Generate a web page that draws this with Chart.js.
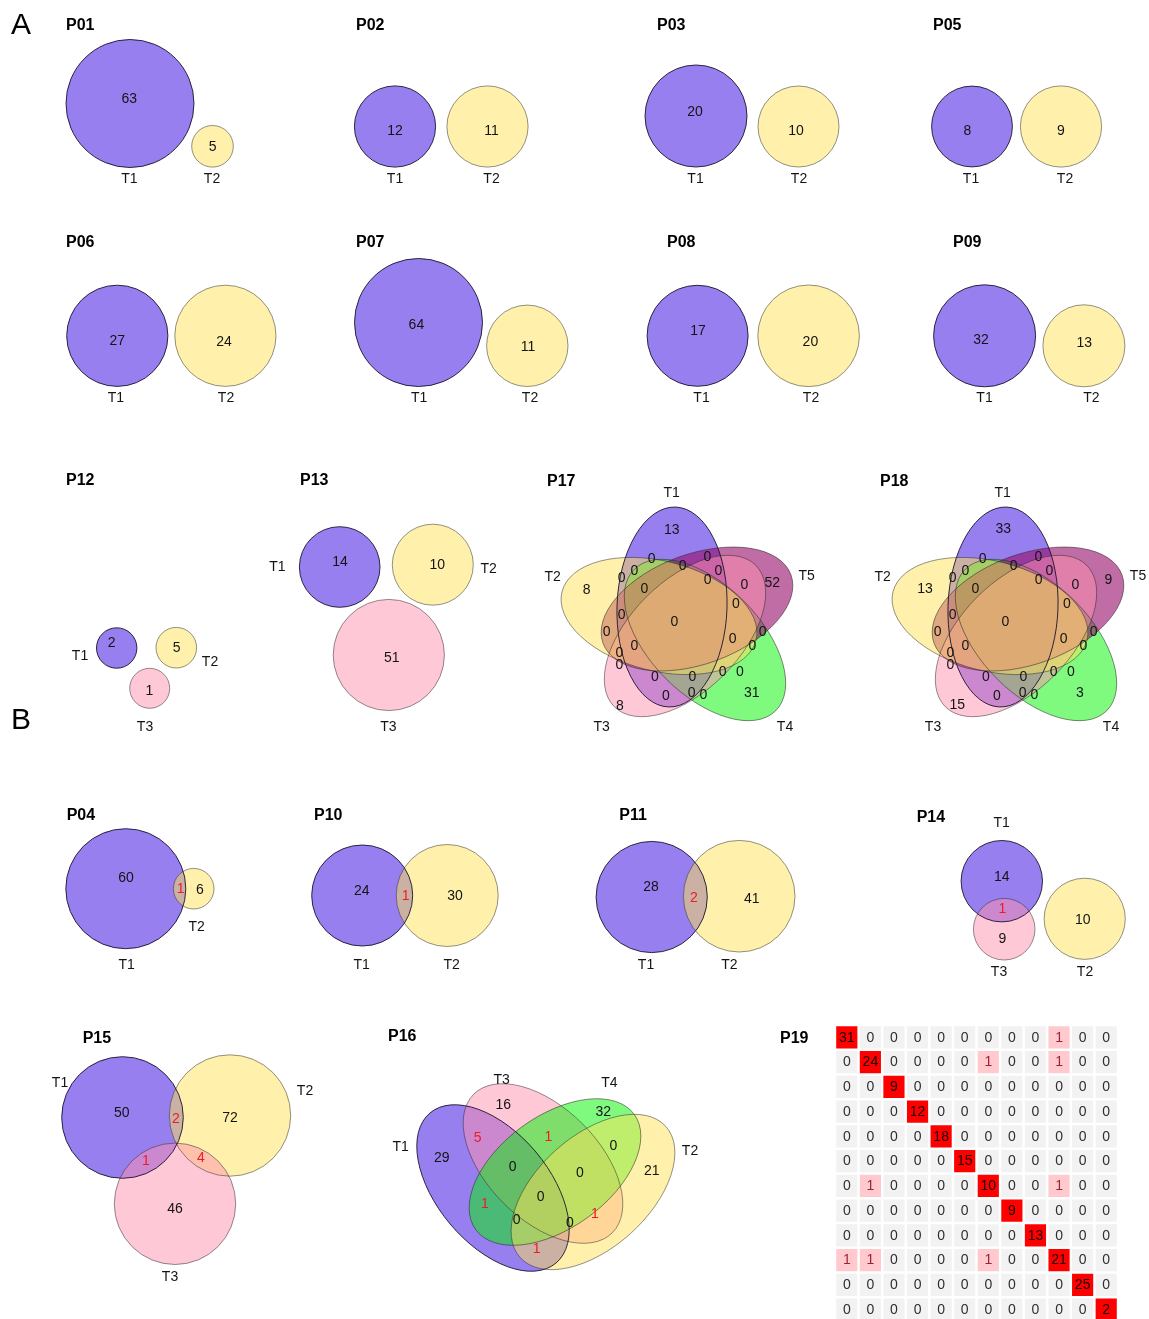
<!DOCTYPE html>
<html>
<head>
<meta charset="utf-8">
<script src="https://cdn.jsdelivr.net/npm/chart.js@4.4.0/dist/chart.umd.min.js"></script>
<style>
  html, body { margin: 0; padding: 0; background: #ffffff; }
  #wrap { position: relative; width: 1149px; height: 1319px; overflow: hidden; }
  #venn { position: absolute; left: 0; top: 0; }
  #heat { position: absolute; left: 835px; top: 1025px; }
</style>
</head>
<body>
<div id="wrap">
  <canvas id="venn" width="1149" height="1319"></canvas>
  <canvas id="heat" width="283" height="297"></canvas>
</div>
<script>
// ---------- counts per region ----------
// two disjoint sets: [T1 only, T2 only]
const P01 = [63, 5];
const P02 = [12, 11];
const P03 = [20, 10];
const P05 = [8, 9];
const P06 = [27, 24];
const P07 = [64, 11];
const P08 = [17, 20];
const P09 = [32, 13];
// three disjoint sets: [T1, T2, T3]
const P12 = [2, 5, 1];
const P13 = [14, 10, 51];
// two overlapping sets: [T1 only, T1&T2, T2 only]
const P04 = [60, 1, 6];
const P10 = [24, 1, 30];
const P11 = [28, 2, 41];
// [T1 only, T1&T3, T3 only, T2 only]
const P14 = [14, 1, 9, 10];
// [T1, T1&T2, T2, T1&T3, T2&T3, T3]
const P15 = [50, 2, 72, 1, 4, 46];
// four-set regions
const P16 = [16, 32, 5, 1, 0, 29, 21, 0, 0, 0, 1, 0, 0, 1, 1];
// five-set regions
const P17 = [13, 0, 0, 0, 0, 0, 0, 8, 0, 0, 0, 52, 0, 0, 0, 0, 0, 0, 0, 0, 0, 0, 0, 0, 0, 0, 31, 0, 0, 0, 8];
const P18 = [33, 0, 0, 0, 0, 0, 0, 13, 0, 0, 0, 9, 0, 0, 0, 0, 0, 0, 0, 0, 0, 0, 0, 0, 0, 0, 3, 0, 0, 0, 15];
// shared-clone matrix
const P19 = [
  [31, 0, 0, 0, 0, 0, 0, 0, 0, 1, 0, 0],
  [0, 24, 0, 0, 0, 0, 1, 0, 0, 1, 0, 0],
  [0, 0, 9, 0, 0, 0, 0, 0, 0, 0, 0, 0],
  [0, 0, 0, 12, 0, 0, 0, 0, 0, 0, 0, 0],
  [0, 0, 0, 0, 18, 0, 0, 0, 0, 0, 0, 0],
  [0, 0, 0, 0, 0, 15, 0, 0, 0, 0, 0, 0],
  [0, 1, 0, 0, 0, 0, 10, 0, 0, 1, 0, 0],
  [0, 0, 0, 0, 0, 0, 0, 9, 0, 0, 0, 0],
  [0, 0, 0, 0, 0, 0, 0, 0, 13, 0, 0, 0],
  [1, 1, 0, 0, 0, 0, 1, 0, 0, 21, 0, 0],
  [0, 0, 0, 0, 0, 0, 0, 0, 0, 0, 25, 0],
  [0, 0, 0, 0, 0, 0, 0, 0, 0, 0, 0, 2]
];
const P19_cols = ['c1','c2','c3','c4','c5','c6','c7','c8','c9','c10','c11','c12'];

// ---------- styling ----------
const FONT = "'Liberation Sans', Arial, Helvetica, sans-serif";
const FILL = {
  T1: 'rgba(50,0,225,0.5)',
  T2: 'rgba(255,228,90,0.5)',
  T3: 'rgba(255,145,175,0.5)',
  T4: 'rgba(0,245,0,0.5)',
  T5: 'rgba(150,10,105,0.6)'
};
const EDGE = {
  T1: 'rgba(25,20,45,0.9)',
  T2: 'rgba(40,40,40,0.5)',
  T3: 'rgba(40,40,40,0.5)',
  T4: 'rgba(40,40,40,0.55)',
  T5: 'rgba(40,40,40,0.55)'
};
const INK = '#141414';
const RED = '#ee1c24';

// ---------- layout (page coordinates) ----------
// circles: [set, cx, cy, r] in drawing order; countAt: [x, y, isOverlap]; labels: [text, x, y]
const circlePanels = [
  { title: 'P01', at: [66, 25.7], counts: P01,
    circles: [['T1', 130, 103.5, 64], ['T2', 212.5, 146.3, 20.8]],
    countAt: [[129.3, 99, 0], [212.7, 146.7, 0]],
    labels: [['T1', 129.3, 179.3], ['T2', 212, 179.3]] },
  { title: 'P02', at: [356, 25.7], counts: P02,
    circles: [['T1', 395, 126.5, 40.6], ['T2', 487.5, 126.5, 40.6]],
    countAt: [[395, 130.7, 0], [491.5, 130.7, 0]],
    labels: [['T1', 395, 179.3], ['T2', 491.5, 179.3]] },
  { title: 'P03', at: [657, 25.7], counts: P03,
    circles: [['T1', 696, 116, 51], ['T2', 798.5, 126.5, 40.5]],
    countAt: [[695, 111.7, 0], [796, 130.7, 0]],
    labels: [['T1', 695.5, 179.3], ['T2', 799, 179.3]] },
  { title: 'P05', at: [933, 25.7], counts: P05,
    circles: [['T1', 972, 126.5, 40.4], ['T2', 1061, 126.5, 40.6]],
    countAt: [[967.5, 130.7, 0], [1061, 130.7, 0]],
    labels: [['T1', 971, 179.3], ['T2', 1065, 179.3]] },
  { title: 'P06', at: [66, 243], counts: P06,
    circles: [['T1', 117.3, 335.8, 50.6], ['T2', 225.4, 335.8, 50.6]],
    countAt: [[117.2, 340.7, 0], [224, 341.7, 0]],
    labels: [['T1', 115.8, 398.3], ['T2', 226, 398.3]] },
  { title: 'P07', at: [356, 243], counts: P07,
    circles: [['T1', 418.5, 322.5, 64], ['T2', 527.3, 345.8, 40.7]],
    countAt: [[416.4, 325, 0], [528, 346.7, 0]],
    labels: [['T1', 419.2, 398.3], ['T2', 530, 398.3]] },
  { title: 'P08', at: [667, 243], counts: P08,
    circles: [['T1', 697.6, 335.8, 50.5], ['T2', 808.6, 335.8, 50.8]],
    countAt: [[698, 331, 0], [810.4, 341.7, 0]],
    labels: [['T1', 701.5, 398.3], ['T2', 811, 398.3]] },
  { title: 'P09', at: [953, 243], counts: P09,
    circles: [['T1', 984.6, 335.8, 51], ['T2', 1083.9, 345.8, 41]],
    countAt: [[981, 340, 0], [1084.2, 343.3, 0]],
    labels: [['T1', 984.5, 398.3], ['T2', 1091.3, 398.3]] },
  { title: 'P12', at: [66, 480.7], counts: P12,
    circles: [['T1', 116.7, 648, 20.2], ['T2', 176.3, 647.7, 20.3], ['T3', 149.7, 688.3, 20]],
    countAt: [[111.7, 642.7, 0], [176.7, 648.3, 0], [149.3, 690.7, 0]],
    labels: [['T1', 80, 656], ['T2', 210, 662.3], ['T3', 145, 726.7]] },
  { title: 'P13', at: [300, 480.7], counts: P13,
    circles: [['T1', 339.7, 567, 40.3], ['T2', 432.8, 564.7, 40.5], ['T3', 388.8, 655, 55.6]],
    countAt: [[340, 562, 0], [437.3, 565.3, 0], [391.7, 658.3, 0]],
    labels: [['T1', 277.3, 567.3], ['T2', 488.7, 569.3], ['T3', 388.3, 726.7]] },
  { title: 'P04', at: [66.7, 816], counts: P04,
    circles: [['T1', 125.8, 888.7, 60], ['T2', 193.7, 888.7, 20.3]],
    countAt: [[126, 878.3, 0], [180.7, 889.3, 1], [200, 890, 0]],
    labels: [['T1', 126.7, 965], ['T2', 196.7, 926.7]] },
  { title: 'P10', at: [314, 816], counts: P10,
    circles: [['T1', 362.2, 895.5, 50.5], ['T2', 447.2, 895.5, 51]],
    countAt: [[361.7, 890.7, 0], [405.7, 896, 1], [455, 896, 0]],
    labels: [['T1', 361.7, 965], ['T2', 451.7, 965]] },
  { title: 'P11', at: [619.3, 816], counts: P11,
    circles: [['T1', 651.7, 897, 55.6], ['T2', 739.2, 896.2, 55.8]],
    countAt: [[651, 887.3, 0], [694, 897.7, 1], [751.7, 899, 0]],
    labels: [['T1', 646, 965], ['T2', 729.3, 965]] },
  { title: 'P14', at: [916.7, 817.3], counts: P14,
    circles: [['T1', 1001.8, 881.2, 40.7], ['T2', 1084.7, 918.8, 40.6], ['T3', 1004.2, 929.2, 30.8]],
    countAt: [[1001.7, 876.7, 0], [1002.3, 909, 1], [1002.3, 939.3, 0], [1082.7, 920, 0]],
    labels: [['T1', 1001.7, 823.3], ['T3', 999, 971.7], ['T2', 1085, 971.7]] },
  { title: 'P15', at: [82.7, 1038.3], counts: P15,
    circles: [['T1', 122.5, 1117.5, 60.8], ['T2', 230, 1115.5, 60.7], ['T3', 175, 1203.8, 60.7]],
    countAt: [[121.7, 1113.3, 0], [176, 1119.3, 1], [230, 1118.3, 0], [146, 1160.7, 1], [201, 1158.3, 1], [175, 1209.3, 0]],
    labels: [['T1', 60, 1082.7], ['T2', 305, 1091], ['T3', 170, 1276.7]] }
];

// ellipses: [set, cx, cy, semi-major, semi-minor, angle in degrees], in drawing order
const P17_shapes = [
  ['T1', 672, 607, 100, 55, -88],
  ['T4', 705, 640, 100, 55, 45],
  ['T5', 697, 609, 100, 55, -20],
  ['T3', 685, 636, 100, 55, 135],
  ['T2', 659, 616, 100, 55, 14]
];
const P17_at = [
  [671.7, 530], [651.7, 559.3], [707.3, 557.3], [682.7, 566], [634.3, 570.7], [718.3, 570.7],
  [621.7, 578.3], [586.7, 590], [644.3, 589], [707.7, 580], [744.3, 585], [772.3, 582.7],
  [736, 604], [621.7, 615], [674.3, 621.7], [606.7, 632.3], [762.7, 632.3], [732.7, 639],
  [634.3, 646], [752.3, 646], [619.3, 652.7], [619.3, 665.3], [655, 676.7], [692.3, 676.7],
  [722.7, 671.7], [740, 671.7], [751.7, 693.3], [666, 696], [691.7, 692.7], [703.3, 695], [620, 705.7]
];
const SHIFT18 = 331;
const P18_solo = { 0: [1003.3, 529.3], 7: [925, 589.3], 11: [1108.3, 580], 26: [1080, 692.7], 30: [957.3, 705] };

const ellipsePanels = [
  { title: 'P16', at: [388, 1037], counts: P16,
    shapes: [
      ['T1', 493, 1188, 98, 56, 50],
      ['T3', 543, 1163.5, 98, 56, 45],
      ['T4', 555, 1172, 98, 56, -36],
      ['T2', 593, 1192, 98, 56, -42]
    ],
    countAt: [
      [503.3, 1105, 0], [603.3, 1111.7, 0], [477.7, 1138.3, 1], [548.3, 1137.3, 1], [613.3, 1146, 1],
      [441.7, 1158.3, 0], [651.7, 1170.7, 0], [512.7, 1166.7, 1], [580, 1172.7, 1], [540.7, 1196.7, 1],
      [485, 1204, 1], [516.7, 1220, 1], [570, 1223.3, 1], [595, 1214, 1], [536.7, 1249.3, 1]
    ],
    labels: [['T1', 400.7, 1146.7], ['T3', 501.7, 1080], ['T4', 609.3, 1083.3], ['T2', 690, 1150.7]] },
  { title: 'P17', at: [547, 481.7], counts: P17,
    shapes: P17_shapes,
    countAt: P17_at.map(p => [p[0], p[1], 0]),
    labels: [['T1', 671.7, 492.7], ['T2', 552.7, 576.7], ['T5', 806.7, 576], ['T3', 601.7, 726.7], ['T4', 785, 726.7]] },
  { title: 'P18', at: [880, 481.7], counts: P18,
    shapes: P17_shapes.map(s => [s[0], s[1] + SHIFT18, s[2], s[3], s[4], s[5]]),
    countAt: P17_at.map((p, i) => P18_solo[i] ? [P18_solo[i][0], P18_solo[i][1], 0] : [p[0] + SHIFT18, p[1], 0]),
    labels: [['T1', 1002.7, 492.7], ['T2', 882.7, 576.7], ['T5', 1138, 576], ['T3', 933, 726.7], ['T4', 1111, 726.7]] }
];

const P19_title = ['P19', 780, 1038.3];
const groupLetters = [['A', 11, 33.5], ['B', 11, 729]];

// ---------- circle marks as bubble points ----------
const circlePoints = [];
circlePanels.forEach(p => p.circles.forEach(c => circlePoints.push({ x: c[1], y: c[2], r: c[3], set: c[0] })));

function textOut(ctx, str, x, y, font, color, align) {
  ctx.font = font;
  ctx.fillStyle = color;
  ctx.textAlign = align || 'center';
  ctx.textBaseline = 'middle';
  ctx.fillText(str, x, y);
}

const vennLabels = {
  id: 'vennLabels',
  afterDatasetsDraw(chart) {
    const ctx = chart.ctx;
    const xs = chart.scales.x, ys = chart.scales.y;
    const X = v => xs.getPixelForValue(v);
    const Y = v => ys.getPixelForValue(v);

    // ellipse diagrams: fills first, outlines on top
    ellipsePanels.forEach(p => {
      const paths = p.shapes.map(s => {
        const cx = X(s[1]), cy = Y(s[2]);
        const ra = X(s[1] + s[3]) - cx, rb = Y(s[2] + s[4]) - cy;
        const path = new Path2D();
        path.ellipse(cx, cy, Math.abs(ra), Math.abs(rb), s[5] * Math.PI / 180, 0, Math.PI * 2);
        return [s[0], path];
      });
      ctx.save();
      paths.forEach(([set, path]) => { ctx.fillStyle = FILL[set]; ctx.fill(path); });
      ctx.lineWidth = 1;
      paths.forEach(([set, path]) => { ctx.strokeStyle = EDGE[set]; ctx.stroke(path); });
      ctx.restore();
    });

    ctx.save();
    const numFont = '14px ' + FONT;
    const titleFont = 'bold 16px ' + FONT;
    [...circlePanels, ...ellipsePanels].forEach(p => {
      textOut(ctx, p.title, X(p.at[0]), Y(p.at[1]), titleFont, '#000', 'left');
      p.labels.forEach(l => textOut(ctx, l[0], X(l[1]), Y(l[2]), numFont, INK));
      p.counts.forEach((v, i) => {
        const a = p.countAt[i];
        textOut(ctx, String(v), X(a[0]), Y(a[1]), numFont, (a[2] && v > 0) ? RED : INK);
      });
    });
    textOut(ctx, P19_title[0], X(P19_title[1]), Y(P19_title[2]), titleFont, '#000', 'left');
    groupLetters.forEach(g => {
      ctx.font = '30px ' + FONT;
      ctx.fillStyle = '#000';
      ctx.textAlign = 'left';
      ctx.textBaseline = 'alphabetic';
      ctx.fillText(g[0], X(g[1]), Y(g[2]));
    });
    ctx.restore();
  }
};

new Chart(document.getElementById('venn'), {
  type: 'bubble',
  data: {
    datasets: [
      { // outlines, drawn over all fills
        data: circlePoints, order: 1, clip: false,
        backgroundColor: 'rgba(0,0,0,0)',
        borderColor: c => EDGE[c.raw.set],
        borderWidth: 1
      },
      { // fills
        data: circlePoints, order: 2, clip: false,
        backgroundColor: c => FILL[c.raw.set],
        borderWidth: 0
      }
    ]
  },
  options: {
    responsive: false, animation: false, events: [],
    layout: { padding: 0, autoPadding: false },
    plugins: { legend: { display: false }, tooltip: { enabled: false } },
    scales: {
      x: { type: 'linear', min: 0, max: 1149, display: false },
      y: { type: 'linear', min: 0, max: 1319, reverse: true, display: false }
    }
  },
  plugins: [vennLabels]
});

// ---------- P19 matrix as stacked cells ----------
function cellColor(v) {
  if (v === 0) return '#f2f2f2';
  if (v === 1) return '#ffc9ce';
  return '#ff0000';
}
function cellInk(v) {
  if (v === 0) return '#2e2e2e';
  if (v === 1) return '#9b2335';
  return '#1a0000';
}
const cellText = {
  id: 'cellText',
  afterDatasetsDraw(chart) {
    const ctx = chart.ctx;
    ctx.save();
    ctx.font = '14px ' + FONT;
    ctx.textAlign = 'center';
    ctx.textBaseline = 'middle';
    chart.data.datasets.forEach((ds, i) => {
      chart.getDatasetMeta(i).data.forEach((el, j) => {
        const v = P19[i][j];
        ctx.fillStyle = cellInk(v);
        ctx.fillText(String(v), el.x, (el.y + el.base) / 2 + 0.5);
      });
    });
    ctx.restore();
  }
};
new Chart(document.getElementById('heat'), {
  type: 'bar',
  data: {
    labels: P19_cols,
    datasets: P19.map(row => ({
      data: row.map(() => 1),
      backgroundColor: c => cellColor(row[c.dataIndex]),
      borderColor: '#ffffff',
      borderWidth: 1.2,
      borderSkipped: false,
      inflateAmount: 0,
      barPercentage: 1,
      categoryPercentage: 1,
      stack: 'm'
    }))
  },
  options: {
    responsive: false, animation: false, events: [],
    layout: { padding: 0, autoPadding: false },
    plugins: { legend: { display: false }, tooltip: { enabled: false } },
    scales: {
      x: { stacked: true, display: false },
      y: { stacked: true, display: false, min: 0, max: 12, reverse: true }
    }
  },
  plugins: [cellText]
});
</script>
</body>
</html>
